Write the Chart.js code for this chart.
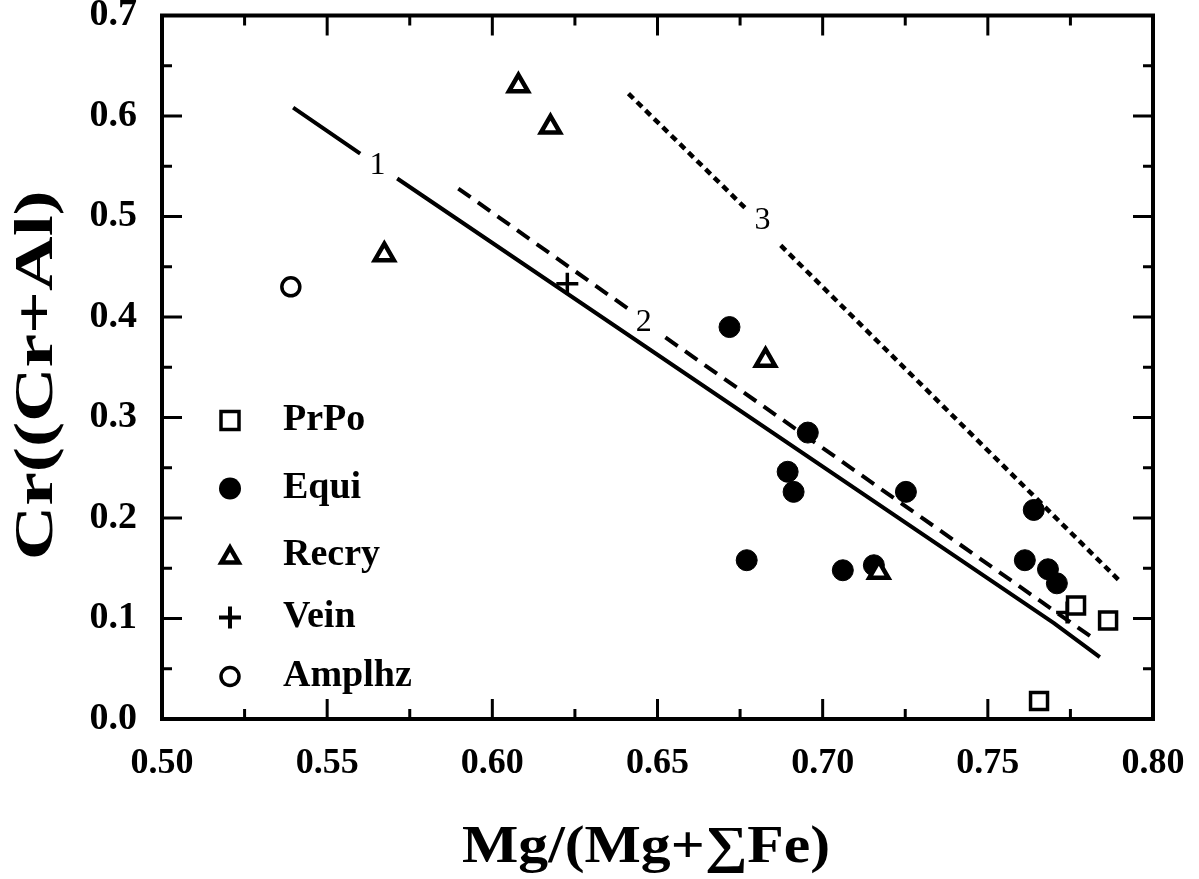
<!DOCTYPE html>
<html>
<head>
<meta charset="utf-8">
<script src="https://cdn.jsdelivr.net/npm/chart.js@4.4.0/dist/chart.umd.min.js"></script>
<style>
  html, body { margin: 0; padding: 0; background: #fff; }
  #wrap { width: 1199px; height: 879px; }
</style>
</head>
<body>
<div id="wrap"><canvas id="chart" width="1199" height="879"></canvas></div>
<script>
const SERIF = '"Liberation Serif", "Times New Roman", serif';

// axis ranges
const X_MIN = 0.5, X_MAX = 0.8;
const Y_MIN = 0.0, Y_MAX = 0.7;

// samples: Mg/(Mg+ΣFe) vs Cr/(Cr+Al)
const prpoX = [0.7767, 0.7864, 0.7655];
const prpoY = [0.113, 0.098, 0.018];

const equiX = [0.6718, 0.6955, 0.6894, 0.6912, 0.7252, 0.6770, 0.7061, 0.7155, 0.7639, 0.7612, 0.7682, 0.7709];
const equiY = [0.390, 0.285, 0.246, 0.226, 0.226, 0.158, 0.148, 0.153, 0.208, 0.158, 0.149, 0.135];

const recryX = [0.6079, 0.6176, 0.5673, 0.6827, 0.7170];
const recryY = [0.630, 0.589, 0.462, 0.357, 0.146];

const veinX = [0.6227, 0.7740];
const veinY = [0.433, 0.106];

const amplX = [0.539];
const amplY = [0.430];

// reference lines 1-3 (null = gap for the label)
const line1X = [0.5397, 0.5600, 0.5650, 0.5712, 0.7700, 0.7839];
const line1Y = [0.6083, 0.5626, null, 0.5378, 0.0954, 0.0616];
const line2X = [0.5897, 0.6418, 0.6450, 0.6524, 0.7827];
const line2Y = [0.5278, 0.4066, null, 0.3797, 0.0785];
const line3X = [0.6412, 0.6770, 0.6800, 0.6873, 0.7897];
const line3Y = [0.6223, 0.5070, null, 0.4712, 0.1380];

const lineLabels = ['1', '2', '3'];
const lineLabelX = [0.5652, 0.6458, 0.6818];
const lineLabelY = [0.5507, 0.3946, 0.4960];

const pts = (xs, ys) => xs.map((x, i) => ({ x, y: ys[i] }));

const lineSet = (label, xs, ys, dash, width) => ({
  type: 'scatter',
  label,
  data: pts(xs, ys),
  showLine: true,
  spanGaps: false,
  borderColor: '#000',
  borderWidth: width,
  borderDash: dash,
  borderCapStyle: 'butt',
  pointRadius: 0,
  fill: false
});

const datasets = [
  { label: 'PrPo', data: pts(prpoX, prpoY), pointStyle: 'rect', pointRadius: 12,
    backgroundColor: '#fff', borderColor: '#000', borderWidth: 3.5 },
  { label: 'Recry', data: pts(recryX, recryY), pointStyle: 'triangle', pointRadius: 11,
    backgroundColor: '#fff', borderColor: '#000', borderWidth: 4.5 },
  { label: 'Vein', data: pts(veinX, veinY), pointStyle: 'cross', pointRadius: 11,
    borderColor: '#000', borderWidth: 3.5 },
  { label: 'Amplhz', data: pts(amplX, amplY), pointStyle: 'circle', pointRadius: 9,
    backgroundColor: '#fff', borderColor: '#000', borderWidth: 3.5 },
  { label: 'Equi', data: pts(equiX, equiY), pointStyle: 'circle', pointRadius: 10.5,
    backgroundColor: '#000', borderColor: '#000', borderWidth: 1 },
  lineSet('1', line1X, line1Y, [], 4),
  lineSet('2', line2X, line2Y, [15, 9], 4),
  lineSet('3', line3X, line3Y, [7, 5], 4.5)
];

const legendOrder = ['PrPo', 'Equi', 'Recry', 'Vein', 'Amplhz'];

function marker(ctx, style, x, y) {
  ctx.save();
  ctx.strokeStyle = '#000';
  ctx.fillStyle = '#fff';
  ctx.beginPath();
  if (style === 'PrPo') {
    ctx.lineWidth = 3.5;
    ctx.rect(x - 9, y - 9, 18, 18);
    ctx.fill(); ctx.stroke();
  } else if (style === 'Equi') {
    ctx.fillStyle = '#000';
    ctx.arc(x, y, 11, 0, Math.PI * 2);
    ctx.fill();
  } else if (style === 'Recry') {
    ctx.lineWidth = 4.5;
    const r = 10;
    for (let k = 0; k < 3; k++) {
      const a = k * 2 * Math.PI / 3;
      const px = x + Math.sin(a) * r, py = y + 2 - Math.cos(a) * r;
      k ? ctx.lineTo(px, py) : ctx.moveTo(px, py);
    }
    ctx.closePath();
    ctx.fill(); ctx.stroke();
  } else if (style === 'Vein') {
    ctx.lineWidth = 4;
    ctx.moveTo(x - 11, y); ctx.lineTo(x + 11, y);
    ctx.moveTo(x, y - 11); ctx.lineTo(x, y + 11);
    ctx.stroke();
  } else {
    ctx.lineWidth = 3.5;
    ctx.arc(x, y, 9, 0, Math.PI * 2);
    ctx.fill(); ctx.stroke();
  }
  ctx.restore();
}

function stretchedText(ctx, text, x, y, rot, targetLen, font) {
  ctx.save();
  ctx.font = font;
  const sx = targetLen / ctx.measureText(text).width;
  ctx.translate(x, y);
  ctx.rotate(rot);
  ctx.scale(sx, 1);
  ctx.fillStyle = '#000';
  ctx.textAlign = 'center';
  ctx.textBaseline = 'middle';
  ctx.fillText(text, 0, 0);
  ctx.restore();
}

const decor = {
  id: 'decor',
  afterDraw(chart) {
    const { ctx, chartArea: a, scales: { x, y } } = chart;
    ctx.save();
    ctx.strokeStyle = '#000';
    ctx.lineCap = 'butt';

    // inward ticks on all four sides
    ctx.lineWidth = 3;
    ctx.beginPath();
    for (let i = 0; i <= 12; i++) {
      const px = x.getPixelForValue(X_MIN + i * 0.025);
      const len = i % 2 === 0 ? 20 : 10;
      ctx.moveTo(px, a.bottom); ctx.lineTo(px, a.bottom - len);
      ctx.moveTo(px, a.top); ctx.lineTo(px, a.top + len);
    }
    for (let i = 0; i <= 14; i++) {
      const py = y.getPixelForValue(Y_MIN + i * 0.05);
      const len = i % 2 === 0 ? 20 : 10;
      ctx.moveTo(a.left, py); ctx.lineTo(a.left + len, py);
      ctx.moveTo(a.right, py); ctx.lineTo(a.right - len, py);
    }
    ctx.stroke();

    // frame
    ctx.lineWidth = 4;
    ctx.strokeRect(a.left, a.top, a.right - a.left, a.bottom - a.top);

    // line labels
    ctx.fillStyle = '#000';
    ctx.font = '32px ' + SERIF;
    ctx.textAlign = 'center';
    ctx.textBaseline = 'middle';
    lineLabels.forEach((t, i) => {
      ctx.fillText(t, x.getPixelForValue(lineLabelX[i]), y.getPixelForValue(lineLabelY[i]));
    });

    // legend in lower-left corner of plot
    ctx.font = 'bold 38px ' + SERIF;
    ctx.textAlign = 'left';
    const rowY = [405, 473, 540, 602, 661];
    legendOrder.forEach((name, i) => {
      const yy = a.top + rowY[i];
      marker(ctx, name, a.left + 68, yy);
      ctx.fillStyle = '#000';
      ctx.fillText(name, a.left + 121, yy);
    });
    ctx.restore();

    // axis titles
    stretchedText(ctx, 'Mg/(Mg+\u2211Fe)', 646, 849, 0, 368, 'bold 52px ' + SERIF);
    stretchedText(ctx, 'Cr((Cr+Al)', 38, (a.top + a.bottom) / 2 + 8, -Math.PI / 2, 370, 'bold 54px ' + SERIF);
  }
};

new Chart(document.getElementById('chart'), {
  type: 'scatter',
  data: { datasets },
  options: {
    responsive: false,
    animation: false,
    devicePixelRatio: 1,
    layout: { padding: { top: 15, right: 46, left: 0, bottom: 0 } },
    plugins: { legend: { display: false }, tooltip: { enabled: false } },
    scales: {
      x: {
        type: 'linear', min: X_MIN, max: X_MAX,
        grid: { display: false, drawTicks: false },
        border: { display: false },
        ticks: { stepSize: 0.05, padding: 23, color: '#000',
                 font: { family: SERIF, size: 36, weight: 'bold' },
                 maxRotation: 0, autoSkip: false, callback: v => v.toFixed(2) },
        afterFit(s) { s.height = 160; s.paddingLeft = 0; s.paddingRight = 0; }
      },
      y: {
        type: 'linear', min: Y_MIN, max: Y_MAX,
        grid: { display: false, drawTicks: false },
        border: { display: false },
        ticks: { stepSize: 0.1, padding: 25, color: '#000',
                 font: { family: SERIF, size: 38, weight: 'bold' },
                 callback: v => v.toFixed(1) },
        afterFit(s) { s.width = 162; s.paddingTop = 0; s.paddingBottom = 0; }
      }
    }
  },
  plugins: [decor]
});
</script>
</body>
</html>
